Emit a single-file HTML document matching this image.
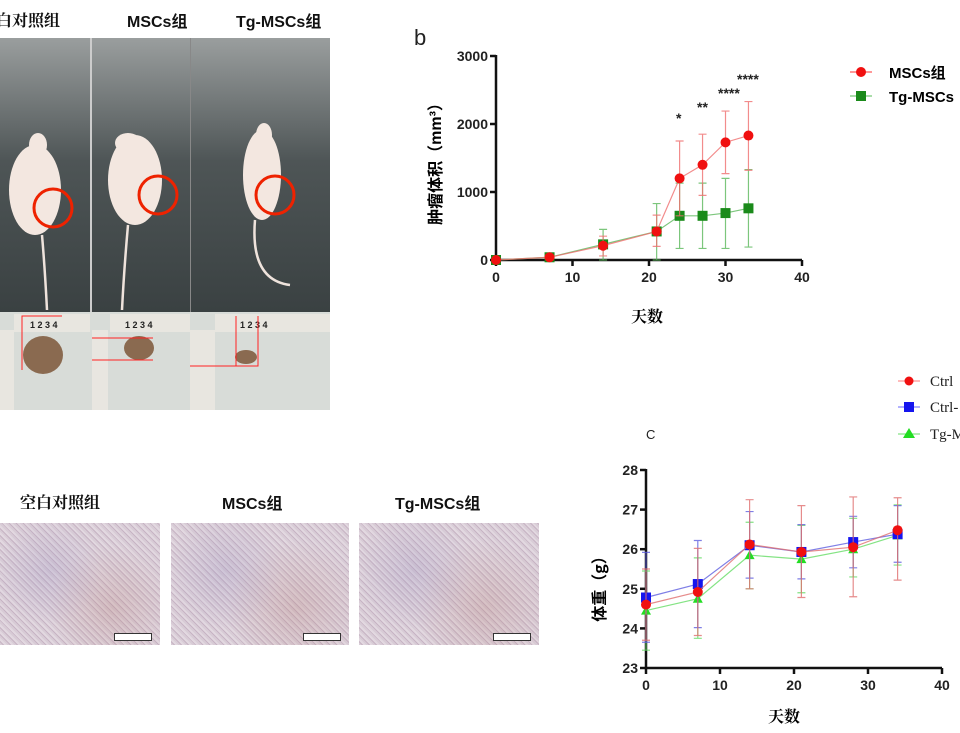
<!DOCTYPE html>
<html><head><meta charset="utf-8"><style>
body{margin:0;background:#fff;width:960px;height:733px;overflow:hidden;position:relative;font-family:"Liberation Sans","Noto Sans CJK SC",sans-serif}
.t{position:absolute;font-weight:bold;font-size:16px;color:#111;white-space:nowrap}
.ph{position:absolute}
.hist{position:absolute;top:523px;height:122px;background:
radial-gradient(circle at 30% 40%,rgba(150,140,190,.25),transparent 40%),
radial-gradient(circle at 70% 70%,rgba(180,120,110,.25),transparent 45%),
repeating-linear-gradient(45deg,#d8ccd6 0 2px,#c7b4c4 2px 3px,#e2d8e0 3px 5px);}
.sb{position:absolute;right:8px;bottom:4px;width:36px;height:6px;background:#fff;border:1px solid #333;font-size:4px}
</style></head><body>
<div class="t" style="left:-4px;top:8px;font-family:'Noto Serif CJK SC',serif">白对照组</div>
<div class="t" style="left:127px;top:8px;font-family:'Liberation Sans','Noto Sans CJK SC',sans-serif">MSCs组</div>
<div class="t" style="left:236px;top:8px;font-family:'Liberation Sans','Noto Sans CJK SC',sans-serif">Tg-MSCs组</div>
<div class="ph" style="left:0;top:38px;width:330px;height:274px;background:linear-gradient(180deg,#9a9e9e 0%,#4e5556 45%,#3a4142 100%)"></div>
<div class="ph" style="left:90px;top:38px;width:2px;height:274px;background:#ccc"></div>
<div class="ph" style="left:190px;top:38px;width:1px;height:274px;background:#888"></div>
<div class="ph" style="left:0;top:312px;width:330px;height:98px;background:#d8dcd8"></div>
<svg class="ph" style="left:0;top:0" width="330" height="410">
<g fill="#f3e7e0">
<ellipse cx="35" cy="190" rx="26" ry="45"/><ellipse cx="38" cy="145" rx="9" ry="12"/>
<ellipse cx="135" cy="180" rx="27" ry="45"/><ellipse cx="128" cy="143" rx="13" ry="10"/>
<ellipse cx="262" cy="175" rx="19" ry="45"/><ellipse cx="264" cy="135" rx="8" ry="12"/>
</g>
<g stroke="#efe3dc" stroke-width="2.5" fill="none">
<path d="M42 235 Q45 270 47 310"/><path d="M128 225 Q124 270 122 310"/><path d="M255 220 Q250 280 290 285"/>
</g>
<g stroke="#e20" stroke-width="3" fill="none">
<circle cx="53" cy="208" r="19"/><circle cx="158" cy="195" r="19"/><circle cx="275" cy="195" r="19"/>
</g>
<g fill="#e8e6e0"><rect x="14" y="314" width="76" height="18"/><rect x="110" y="314" width="80" height="18"/><rect x="215" y="314" width="115" height="18"/>
<rect x="0" y="330" width="14" height="80"/><rect x="92" y="330" width="16" height="80"/><rect x="190" y="330" width="25" height="80"/></g>
<g font-size="9" font-weight="bold" fill="#222"><text x="30" y="328">1 2 3 4</text><text x="125" y="328">1 2 3 4</text><text x="240" y="328">1  2  3  4</text></g>
<g fill="#8a6a50"><ellipse cx="43" cy="355" rx="20" ry="19"/><ellipse cx="139" cy="348" rx="15" ry="12"/><ellipse cx="246" cy="357" rx="11" ry="7"/></g>
<g stroke="#f22" fill="none" stroke-width="1"><path d="M22 370V316H62"/><path d="M92 338H153M92 360H153"/><path d="M190 366H258M236 316V366H258V316"/></g>
</svg>
<div class="t" style="left:20px;top:490px;font-family:'Noto Serif CJK SC',serif">空白对照组</div>
<div class="t" style="left:222px;top:490px;font-family:'Liberation Sans','Noto Sans CJK SC',sans-serif">MSCs组</div>
<div class="t" style="left:395px;top:490px;font-family:'Liberation Sans','Noto Sans CJK SC',sans-serif">Tg-MSCs组</div>
<div class="hist" style="left:0;width:160px"><div class="sb"></div></div>
<div class="hist" style="left:171px;width:178px"><div class="sb"></div></div>
<div class="hist" style="left:359px;width:180px"><div class="sb"></div></div>
<svg id="s" style="position:absolute;left:0;top:0" width="960" height="733"></svg>
<script>
let h='';
function plot(o){
 const fx=v=>o.x0+(o.x1-o.x0)*v/40, fy=v=>o.y0+(o.y1-o.y0)*(v-o.v0)/(o.v1-o.v0);
 h+=`<g stroke="#111" stroke-width="2.5" fill="none"><path d="M${o.x0} ${o.y1-1}V${o.y0}H${o.x1}"/>`;
 for(let i=0;i<=40;i+=10)h+=`<path d="M${fx(i)} ${o.y0}v6"/>`;
 for(const t of o.yt)h+=`<path d="M${o.x0} ${fy(t)}h-6"/>`;
 h+='</g><g font-weight="bold" font-size="14" fill="#222">';
 for(let i=0;i<=40;i+=10)h+=`<text x="${fx(i)}" y="${o.y0+22}" text-anchor="middle">${i}</text>`;
 for(const t of o.yt)h+=`<text x="${o.x0-8}" y="${fy(t)+5}" text-anchor="end">${t}</text>`;
 h+='</g>';
 for(const s of o.s){
  let p=s.d.map(d=>fx(d[0])+','+fy(d[1])).join(' ');
  h+=`<g stroke="${s.lc}" stroke-width="1.2" fill="none" opacity=".8">`;
  for(const d of s.d)if(d[2]!=null)h+=`<path d="M${fx(d[0])} ${fy(d[2])}V${fy(d[3])}M${fx(d[0])-4} ${fy(d[2])}h8M${fx(d[0])-4} ${fy(d[3])}h8"/>`;
  h+=`<polyline points="${p}"/></g>`;
  for(const d of s.d){const x=fx(d[0]),y=fy(d[1]);
   if(s.m=='c')h+=`<circle cx="${x}" cy="${y}" r="${s.r}" fill="${s.c}"/>`;
   else if(s.m=='s')h+=`<rect x="${x-s.r}" y="${y-s.r}" width="${2*s.r}" height="${2*s.r}" fill="${s.c}"/>`;
   else h+=`<path d="M${x} ${y-s.r}L${x+s.r} ${y+s.r*.8}L${x-s.r} ${y+s.r*.8}Z" fill="${s.c}"/>`;}
 }
}
plot({x0:496,x1:802,y0:260,y1:56,v0:0,v1:3000,yt:[0,1000,2000,3000],s:[
{c:'#1a8a1a',lc:'#5cb85c',m:'s',r:5,d:[[0,0],[7,40],[14,230,0,450],[21,420,0,830],[24,650,170,1130],[27,650,170,1130],[30,690,170,1200],[33,760,190,1330]]},
{c:'#f01010',lc:'#f07070',m:'c',r:5,d:[[0,0],[7,40],[14,210,60,350],[21,420,200,660],[24,1200,650,1750],[27,1400,950,1850],[30,1730,1270,2190],[33,1830,1320,2330]]}]});
plot({x0:646,x1:942,y0:668,y1:470,v0:23,v1:28,yt:[23,24,25,26,27,28],s:[
{c:'#22dd22',lc:'#66dd66',m:'t',r:5,d:[[0,24.45,23.45,25.45],[7,24.75,23.75,25.78],[14,25.85,25,26.68],[21,25.75,24.9,26.6],[28,26,25.3,26.78],[34,26.35,25.6,27.12]]},
{c:'#1515ee',lc:'#6060e0',m:'s',r:5,d:[[0,24.78,23.65,25.92],[7,25.12,24.02,26.22],[14,26.1,25.27,26.95],[21,25.93,25.25,26.62],[28,26.18,25.53,26.83],[34,26.38,25.67,27.1]]},
{c:'#f01010',lc:'#e07070',m:'c',r:5,d:[[0,24.6,23.7,25.5],[7,24.92,23.82,26.02],[14,26.12,25,27.25],[21,25.93,24.78,27.1],[28,26.05,24.8,27.32],[34,26.48,25.22,27.3]]}]});
h+=`<g font-size="14" font-weight="bold" fill="#222"><text x="676" y="123">*</text><text x="697" y="112">**</text><text x="718" y="98">****</text><text x="737" y="84">****</text></g>`;
h+=`<text x="414" y="45" font-size="22" fill="#222">b</text><text x="646" y="439" font-size="13" fill="#222">C</text>`;
h+=`<text x="647" y="322" font-size="16" font-weight="bold" text-anchor="middle" font-family="Noto Serif CJK SC,serif">天数</text>`;
h+=`<text x="784" y="722" font-size="16" font-weight="bold" text-anchor="middle" font-family="Noto Serif CJK SC,serif">天数</text>`;
h+=`<text transform="translate(441,160) rotate(-90)" font-size="16" font-weight="bold" text-anchor="middle" font-family="Liberation Sans,Noto Sans CJK SC,sans-serif">肿瘤体积（mm³）</text>`;
h+=`<text transform="translate(605,585) rotate(-90)" font-size="16" font-weight="bold" text-anchor="middle" font-family="Noto Sans CJK SC,sans-serif">体重（g）</text>`;
h+=`<g><path d="M850 72h22" stroke-width="1.5" stroke="#f77"/><path d="M850 96h22" stroke="#5b5"/><circle cx="861" cy="72" r="5" fill="#f01010"/><rect x="856" y="91" width="10" height="10" fill="#1a8a1a"/>
<text x="889" y="78" font-size="15" font-weight="bold" font-family="Liberation Sans,Noto Sans CJK SC,sans-serif">MSCs组</text><text x="889" y="102" font-size="15" font-weight="bold" font-family="Liberation Sans,sans-serif">Tg-MSCs</text></g>`;
h+=`<g font-family="Liberation Serif,serif" font-size="15" fill="#222"><path d="M898 381h22" stroke="#f77"/><circle cx="909" cy="381" r="4.5" fill="#f01010"/><text x="930" y="386">Ctrl</text>
<path d="M898 407h22" stroke="#66f"/><rect x="904" y="402" width="10" height="10" fill="#1515ee"/><text x="930" y="412">Ctrl-</text>
<path d="M898 434h22" stroke="#6d6"/><path d="M909 428l6 10h-12z" fill="#22dd22"/><text x="930" y="439">Tg-M</text></g>`;
document.getElementById('s').innerHTML=h;
</script>
</body></html>
